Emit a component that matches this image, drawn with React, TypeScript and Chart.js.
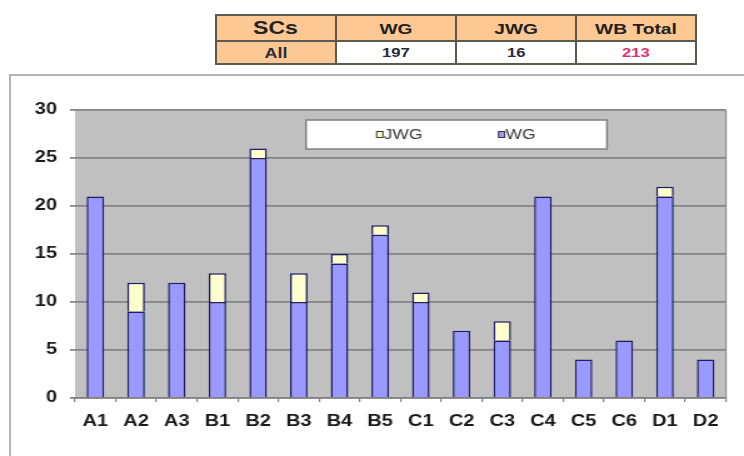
import React, { useEffect, useRef } from 'react';
import { Chart, registerables } from 'chart.js';

Chart.register(...registerables);

// ---- data ----
const categories = ['A1', 'A2', 'A3', 'B1', 'B2', 'B3', 'B4', 'B5', 'C1', 'C2', 'C3', 'C4', 'C5', 'C6', 'D1', 'D2'];
const wgValues = [21, 9, 12, 10, 25, 10, 14, 17, 10, 7, 6, 21, 4, 6, 21, 4];
const jwgValues = [0, 3, 0, 3, 1, 3, 1, 1, 1, 0, 2, 0, 0, 0, 1, 0];
const seriesLabels = ['WG', 'JWG'];
const yMin = 0;
const yMax = 30;
const yStep = 5;
const tableHeader = ['SCs', 'WG', 'JWG', 'WB Total'];
const tableRow = ['All', '197', '16', '213'];

// ---- layout ----
const CANVAS_W = 595;
const CANVAS_H = 381;
const SX = 744 / CANVAS_W;
const FONT = '"Liberation Sans", Arial, sans-serif';

const plotBg = {
  id: 'plotBg',
  beforeDraw(chart: any) {
    const { ctx, chartArea: a } = chart;
    ctx.save();
    ctx.fillStyle = '#C0C0C0';
    ctx.fillRect(a.left, a.top, a.right - a.left, a.bottom - a.top);
    ctx.restore();
  },
  afterDatasetsDraw(chart: any) {
    const { ctx, chartArea: a } = chart;
    ctx.save();
    ctx.strokeStyle = '#8c8c8c';
    ctx.lineWidth = 1.2;
    ctx.beginPath();
    ctx.moveTo(a.right, a.top);
    ctx.lineTo(a.right, a.bottom);
    ctx.stroke();
    ctx.restore();
  },
};

const boxLegend = {
  id: 'boxLegend',
  afterDraw(chart: any) {
    const { ctx, chartArea: a } = chart;
    const x0 = a.left + 184.7;
    const x1 = a.left + 425.4;
    const y0 = a.top + 10;
    const y1 = a.top + 39;
    ctx.save();
    ctx.fillStyle = '#ffffff';
    ctx.fillRect(x0, y0, x1 - x0, y1 - y0);
    ctx.strokeStyle = '#808080';
    ctx.lineWidth = 1.5;
    ctx.strokeRect(x0, y0, x1 - x0, y1 - y0);
    const ym = (y0 + y1) / 2;
    const items = chart.data.datasets.slice().reverse();
    const xs = [x0 + 56.5, x0 + 154];
    ctx.font = `14px ${FONT}`;
    ctx.textBaseline = 'middle';
    items.forEach((ds: any, i: number) => {
      const x = xs[i];
      ctx.fillStyle = ds.backgroundColor;
      ctx.fillRect(x, ym - 3, 5, 6);
      ctx.strokeStyle = '#222';
      ctx.lineWidth = 0.9;
      ctx.strokeRect(x, ym - 3, 5, 6);
      ctx.fillStyle = '#3a3a3a';
      ctx.fillText(ds.label, x + 5.5, ym + 0.5);
    });
    ctx.restore();
  },
};

function ChartCanvas() {
  const ref = useRef<HTMLCanvasElement | null>(null);
  useEffect(() => {
    if (!ref.current) return;
    const chart = new Chart(ref.current, {
      type: 'bar',
      data: {
        labels: categories,
        datasets: [
          {
            label: seriesLabels[0],
            data: wgValues,
            backgroundColor: '#9999FF',
            borderColor: '#1c1c66',
            borderWidth: 1.5,
            borderSkipped: 'bottom',
          },
          {
            label: seriesLabels[1],
            data: jwgValues,
            backgroundColor: '#FFFFCC',
            borderColor: '#1c1c66',
            borderWidth: 1.5,
            borderSkipped: 'bottom',
          },
        ],
      },
      options: {
        responsive: false,
        animation: false,
        devicePixelRatio: 1,
        datasets: { bar: { barPercentage: 0.43, categoryPercentage: 1 } },
        layout: { padding: { top: 35, right: 14.4, left: 0, bottom: 0 } },
        plugins: { legend: { display: false }, tooltip: { enabled: false }, title: { display: false } },
        scales: {
          x: {
            stacked: true,
            afterFit: (axis: any) => {
              axis.height = 58;
            },
            grid: {
              display: true,
              drawOnChartArea: false,
              drawTicks: true,
              tickLength: 4,
              color: '#808080',
              lineWidth: 1.2,
              offset: true,
            },
            border: { display: true, color: '#808080', width: 1.5 },
            ticks: {
              color: '#1a1a1a',
              padding: 10,
              font: { family: FONT, size: 16, weight: 'bold' },
              maxRotation: 0,
              autoSkip: false,
            },
          },
          y: {
            stacked: true,
            min: yMin,
            max: yMax,
            afterFit: (axis: any) => {
              axis.width = 60;
            },
            grid: {
              color: '#858585',
              lineWidth: 1.8,
              drawTicks: true,
              tickLength: 4,
            },
            border: { display: false },
            ticks: {
              stepSize: yStep,
              color: '#1a1a1a',
              padding: 10.4,
              font: { family: FONT, size: 16, weight: 'bold' },
            },
          },
        },
      },
      plugins: [plotBg, boxLegend],
    });
    return () => chart.destroy();
  }, []);
  return (
    <canvas
      ref={ref}
      width={CANVAS_W}
      height={CANVAS_H}
      style={{ width: CANVAS_W + 'px', height: CANVAS_H + 'px', display: 'block' }}
    />
  );
}

const cellBase: React.CSSProperties = {
  border: '2px solid #5c5a50',
  padding: 0,
  textAlign: 'center',
  verticalAlign: 'middle',
  fontFamily: FONT,
  fontWeight: 'bold',
  color: '#222',
  width: 118,
};

function Stretch({ children, color }: { children: React.ReactNode; color?: string }) {
  return (
    <span style={{ display: 'inline-block', transform: 'scaleX(1.28)', color }}>{children}</span>
  );
}

export default function App() {
  return (
    <div
      style={{
        position: 'absolute',
        left: 0,
        top: 0,
        width: 744,
        height: 456,
        overflow: 'hidden',
        background: '#ffffff',
      }}
    >
      <table
        style={{
          position: 'absolute',
          left: 215,
          top: 14,
          width: 471,
          height: 49,
          borderCollapse: 'collapse',
          tableLayout: 'fixed',
        }}
      >
        <tbody>
          <tr style={{ height: 26 }}>
            {tableHeader.map((h, i) => (
              <td key={h} style={{ ...cellBase, background: '#FDC893', fontSize: i === 0 ? 18 : 15 }}>
                <Stretch>{h}</Stretch>
              </td>
            ))}
          </tr>
          <tr style={{ height: 23 }}>
            {tableRow.map((v, i) => (
              <td
                key={i}
                style={{ ...cellBase, background: i === 0 ? '#FDC893' : '#ffffff', fontSize: i === 0 ? 14 : 13 }}
              >
                <Stretch color={i === 3 ? '#E0306A' : '#2a2a3a'}>{v}</Stretch>
              </td>
            ))}
          </tr>
        </tbody>
      </table>
      <div
        style={{
          position: 'absolute',
          left: 9,
          top: 74,
          width: 800,
          height: 500,
          border: '2px solid #b4b4b4',
          boxSizing: 'border-box',
        }}
      />
      <div
        style={{
          position: 'absolute',
          left: 0,
          top: 75,
          width: CANVAS_W,
          height: CANVAS_H,
          transform: `scaleX(${SX})`,
          transformOrigin: '0 0',
        }}
      >
        <ChartCanvas />
      </div>
    </div>
  );
}
